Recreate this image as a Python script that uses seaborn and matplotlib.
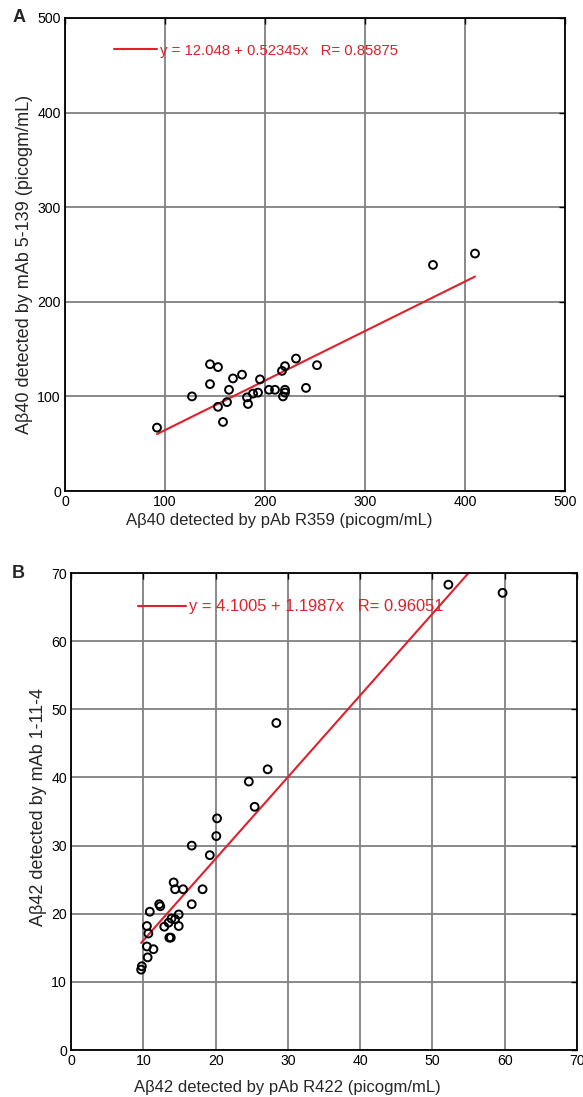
import matplotlib
matplotlib.use("Agg")
import matplotlib.pyplot as plt
import seaborn as sns
import numpy as np
import pandas as pd

# Panel A: Abeta40, pAb R359 (x) vs mAb 5-139 (y)
a_x = [92, 127, 145, 153, 145, 153, 158, 162, 164, 168, 177, 182, 183, 188,
       193, 195, 204, 210, 217, 220, 220, 220, 218, 231, 241, 252, 368, 410]
a_y = [67, 100, 134, 131, 113, 89, 73, 94, 107, 119, 123, 99, 92, 103,
       104, 118, 107, 107, 127, 132, 107, 104, 100, 140, 109, 133, 239, 251]
a_icpt, a_slope, a_r = 12.048, 0.52345, 0.85875

# Panel B: Abeta42, pAb R422 (x) vs mAb 1-11-4 (y)
b_x = [9.7, 9.8, 10.6, 10.5, 11.4, 10.7, 10.5, 10.9, 12.2, 12.35, 12.9, 13.5,
       13.9, 13.6, 13.8, 14.4, 14.9, 14.9, 14.4, 14.2, 15.5, 16.7, 18.2,
       28.4, 27.2, 24.6, 25.4, 20.2, 20.1, 16.7, 19.2, 52.2, 59.7]
b_y = [11.8, 12.3, 13.6, 15.2, 14.8, 17.1, 18.2, 20.3, 21.4, 21.1, 18.1, 18.7,
       19.3, 16.5, 16.5, 19.2, 19.9, 18.2, 23.6, 24.6, 23.6, 21.4, 23.6,
       48.0, 41.2, 39.4, 35.7, 34.0, 31.4, 30.0, 28.6, 68.3, 67.1]
b_icpt, b_slope, b_r = 4.1005, 1.1987, 0.96051

sns.set_style("white")
plt.rcParams['font.family'] = ['Liberation Sans', 'DejaVu Sans']

fig = plt.figure(figsize=(5.83, 10.97), dpi=100)
ax_a = fig.add_axes([0.1115, 0.5524, 0.8576, 0.4312])
ax_b = fig.add_axes([0.1218, 0.0428, 0.868, 0.4348])

panels = [
    dict(ax=ax_a, xs=a_x, ys=a_y, icpt=a_icpt, slope=a_slope, r=a_r,
         xmax=500, xstep=100, ymax=500, ystep=100,
         xlab="Aβ40 detected by pAb R359 (picogm/mL)",
         ylab="Aβ40 detected by mAb 5-139 (picogm/mL)", tag="A",
         legpos=(0.098, 0.931), legsize=10.7, xlabpos=(0.428, -0.046),
         ylaby=0.48, tagx=-0.105),
    dict(ax=ax_b, xs=b_x, ys=b_y, icpt=b_icpt, slope=b_slope, r=b_r,
         xmax=70, xstep=10, ymax=70, ystep=10,
         xlab="Aβ42 detected by pAb R422 (picogm/mL)",
         ylab="Aβ42 detected by mAb 1-11-4", tag="B",
         legpos=(0.132, 0.929), legsize=11.9, xlabpos=(0.427, -0.063),
         ylaby=0.509, tagx=-0.118),
]

for p in panels:
    ax = p["ax"]
    df = pd.DataFrame({"x": p["xs"], "y": p["ys"]})
    fit_x = np.array([min(p["xs"]), max(p["xs"])])
    fit = pd.DataFrame({"x": fit_x, "y": p["icpt"] + p["slope"] * fit_x})

    ax.grid(True, color="#808080", linewidth=1.3, zorder=0)
    ax.set_axisbelow(True)
    sns.lineplot(data=fit, x="x", y="y", ax=ax, color="#e0202c", linewidth=1.5,
                 label=f"y = {p['icpt']} + {p['slope']}x   R= {p['r']}", zorder=2)
    sns.scatterplot(data=df, x="x", y="y", ax=ax, s=32, facecolor="none",
                    edgecolor="black", linewidth=1.4, zorder=3)

    ax.set_xlim(0, p["xmax"])
    ax.set_ylim(0, p["ymax"])
    ax.set_xticks(np.arange(0, p["xmax"] + 1, p["xstep"]))
    ax.set_yticks(np.arange(0, p["ymax"] + 1, p["ystep"]))
    ax.tick_params(direction="in", length=4, width=1, top=True, right=True,
                   labelsize=10.2, colors="black", pad=3)
    for sp in ax.spines.values():
        sp.set_color("black")
        sp.set_linewidth(1.3)
    ax.set_xlabel(p["xlab"], fontsize=12)
    ax.xaxis.set_label_coords(*p["xlabpos"])
    ax.set_ylabel(p["ylab"], fontsize=13, labelpad=3)
    ax.yaxis.label.set_y(p["ylaby"])

    leg = ax.legend(loc="center left", bbox_to_anchor=p["legpos"], frameon=False,
                    handlelength=2.9, handletextpad=0.2, borderpad=0,
                    borderaxespad=0, fontsize=p["legsize"])
    for t in leg.get_texts():
        t.set_color("#e0202c")

    ax.text(p["tagx"], 1.0, p["tag"], transform=ax.transAxes,
            fontsize=13, fontweight="bold", va="center", ha="left")

fig.savefig("out.png", dpi=100)
